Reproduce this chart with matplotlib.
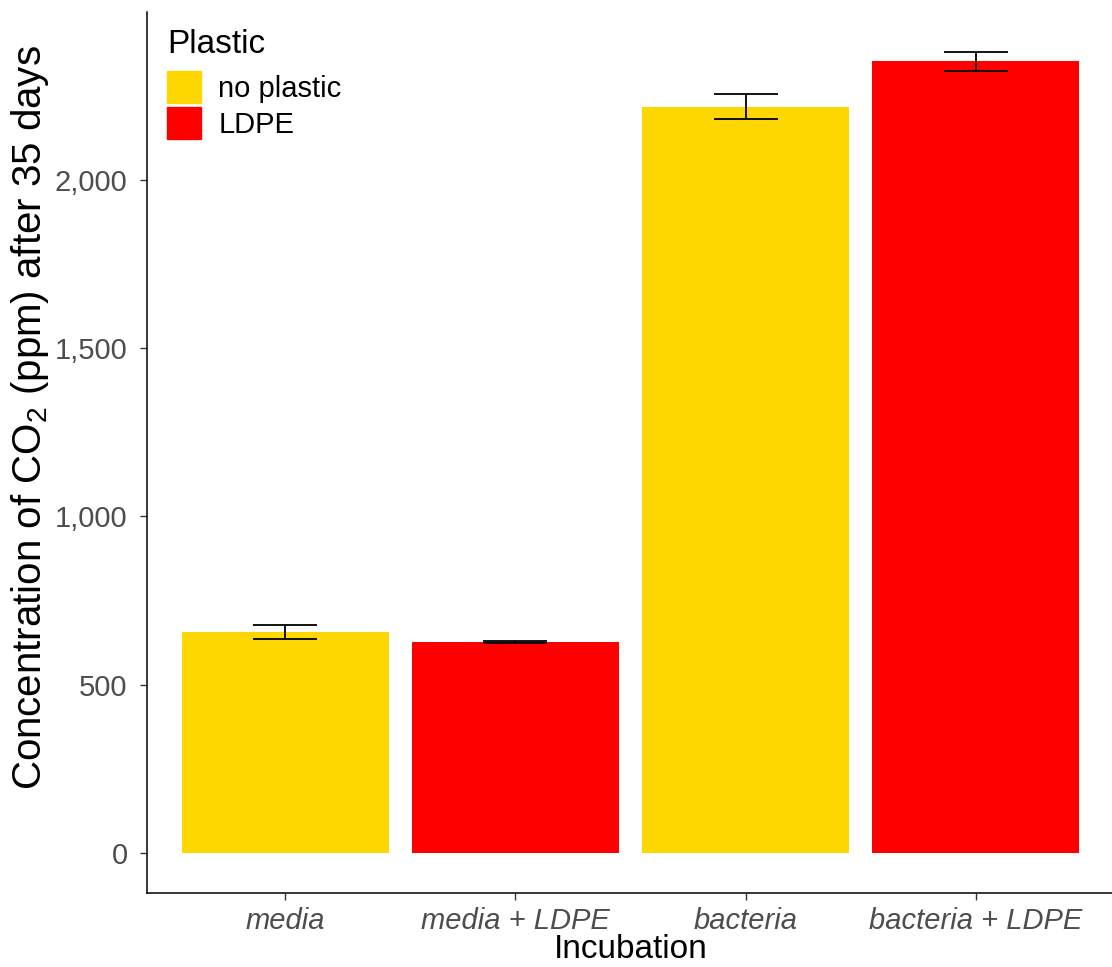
import matplotlib
matplotlib.use("Agg")
import matplotlib.pyplot as plt
from matplotlib.patches import Patch
from matplotlib.ticker import FuncFormatter

plt.rcParams["font.family"] = ["Liberation Sans", "DejaVu Sans"]
plt.rcParams["mathtext.fontset"] = "custom"
plt.rcParams["mathtext.rm"] = "Liberation Sans"
plt.rcParams["mathtext.it"] = "Liberation Sans:italic"
plt.rcParams["mathtext.default"] = "regular"

incubations = ["media", "media + LDPE", "bacteria", "bacteria + LDPE"]
plastic = ["no plastic", "LDPE", "no plastic", "LDPE"]
co2_ppm = [656, 626, 2218, 2352]
co2_err = [21, 3, 37, 27]
colours = {"no plastic": "#FFD700", "LDPE": "#FF0000"}

fig = plt.figure(figsize=(11.12, 9.67), dpi=100)
ax = fig.add_axes([0.1322, 0.0765, 0.8696, 0.9111])

xpos = range(1, len(incubations) + 1)
ax.bar(xpos, co2_ppm, width=0.9, color=[colours[p] for p in plastic])
ax.errorbar(xpos, co2_ppm, yerr=co2_err, fmt="none", ecolor="black",
            elinewidth=1.3, capsize=23, capthick=1.3)

ax.set_xlim(0.4, 4.6)
ax.set_ylim(-119, 2499)
ax.set_xticks(list(xpos))
ax.set_xticklabels(incubations, style="italic")
ax.set_yticks([0, 500, 1000, 1500, 2000])
ax.yaxis.set_major_formatter(FuncFormatter(lambda v, _: f"{int(v):,}"))
ax.tick_params(labelsize=21, labelcolor="#4D4D4D", color="#333333",
               length=5, width=1)
ax.tick_params(axis="x", pad=5)
ax.tick_params(axis="y", pad=9)

for side in ["top", "right"]:
    ax.spines[side].set_visible(False)
for side in ["left", "bottom"]:
    ax.spines[side].set_linewidth(1.1)

ax.set_xlabel("Incubation", fontsize=24, labelpad=-1)
ax.set_ylabel("Concentration of CO$_2$ (ppm) after 35 days", fontsize=29)
ax.yaxis.set_label_coords(-0.099, 0.54)

handles = [Patch(color=colours[k], label=k) for k in ["no plastic", "LDPE"]]
leg = ax.legend(handles=handles, title="Plastic", loc="upper left",
                bbox_to_anchor=(0.150, 0.970), bbox_transform=fig.transFigure,
                frameon=False, fontsize=21, title_fontsize=24,
                handlelength=1.17, handleheight=1.33, handletextpad=0.6,
                labelspacing=0.12, borderpad=0, borderaxespad=0)
leg._legend_box.align = "left"
leg._legend_box.sep = 8

fig.savefig("out.png", dpi=100)
